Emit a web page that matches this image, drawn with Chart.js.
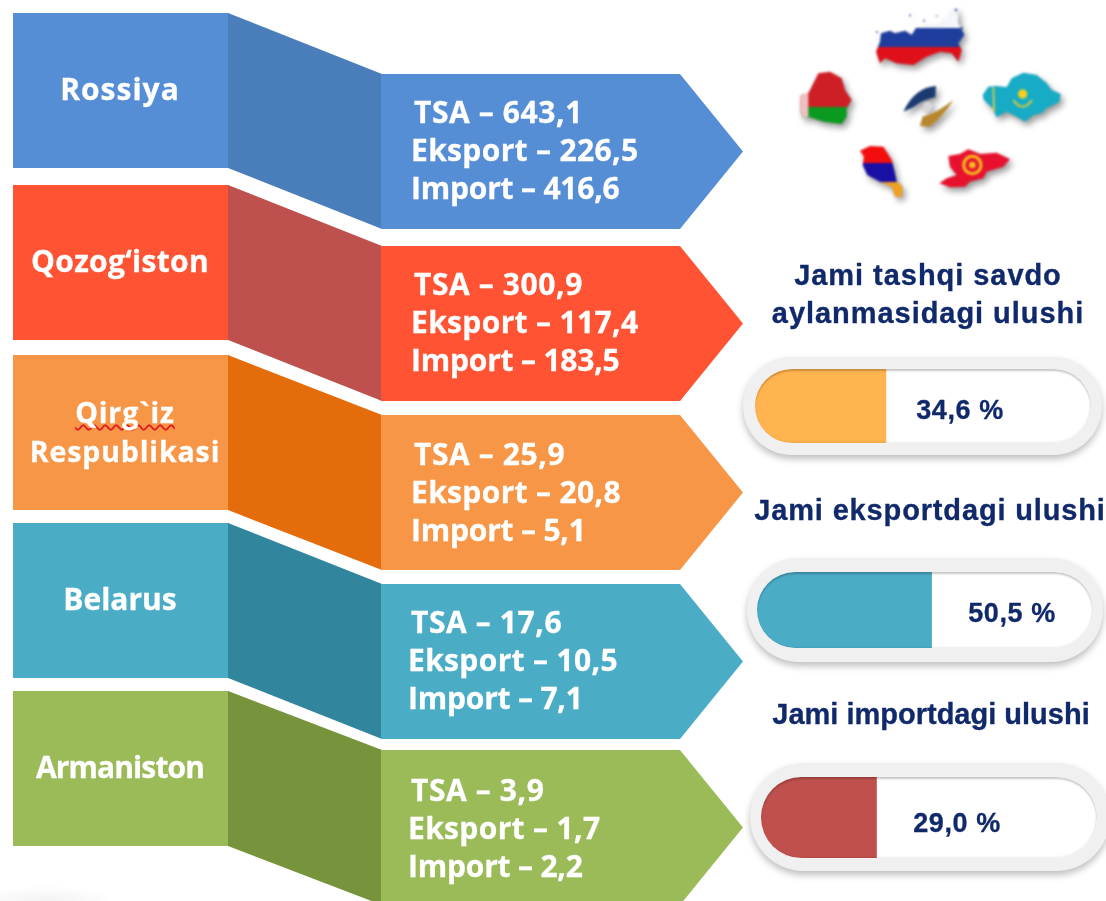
<!DOCTYPE html>
<html>
<head>
<meta charset="utf-8">
<script src="https://cdn.jsdelivr.net/npm/chart.js@4"></script>
<style>
  html, body { margin: 0; padding: 0; background: #fff; }
  #page { position: relative; width: 1106px; height: 901px; overflow: hidden; }
  #page svg { position: absolute; }
  .t { position: absolute; white-space: nowrap; line-height: 1; transform: translateY(-50%); filter: blur(0.45px); }
  .name { color: #fff; font: 700 30px/36px "Open Sans", sans-serif; text-align: center; transform: translate(-50%, -50%); margin-top: -1px; -webkit-text-stroke: .3px #fff; }
  .name.two { font-size: 28.5px; line-height: 39px; }
  .name span { display: block; }
  .trade { color: #fff; font: 700 30px/1 "Open Sans", sans-serif; margin-top: -1px; -webkit-text-stroke: .3px #fff; }
  .head { color: #10296b; font: 700 29px/1 "Liberation Sans", sans-serif; transform: translate(-50%, -50%); -webkit-text-stroke: .3px #10296b; }
  .pct { color: #10296b; font: 700 27px/1 "Liberation Sans", sans-serif; letter-spacing: .6px; transform: translate(-50%, -50%); -webkit-text-stroke: .3px #10296b; }
  .pill { position: absolute; background: #f0f0f0; box-shadow: 0 4px 7px rgba(0,0,0,.25); }
  .slot { position: absolute; background: #fff; overflow: hidden; }
  .slot canvas { display: block; }
  .inset { position: absolute; left: 0; top: 0; right: 0; bottom: 0; border-radius: inherit; box-shadow: inset 0 2px 2px rgba(0,0,0,.22), inset -1px -1px 2px rgba(0,0,0,.08); }
  #flags { filter: blur(1px) drop-shadow(3px 4px 3px rgba(0,0,0,.4)); }
  #smudge { position: absolute; left: -30px; top: 885px; width: 150px; height: 40px; background: radial-gradient(closest-side, rgba(0,0,0,.06), rgba(0,0,0,0)); }
</style>
</head>
<body>
<div id="page">
  <div id="smudge"></div>
  <svg id="ribbons" width="1106" height="901" style="left:0;top:0"></svg>
  <svg id="flags" width="300" height="210" viewBox="0 0 900 630" style="left:780px;top:0">
    <defs>
      <linearGradient id="ru" gradientUnits="userSpaceOnUse" x1="0" y1="0" x2="0" y2="210">
        <stop offset=".405" stop-color="#f4f6fb"/><stop offset=".405" stop-color="#1f3d9c"/>
        <stop offset=".665" stop-color="#1f3d9c"/><stop offset=".665" stop-color="#e0101a"/>
      </linearGradient>
      <linearGradient id="by" gradientUnits="userSpaceOnUse" x1="0" y1="210" x2="0" y2="380">
        <stop offset=".65" stop-color="#cf1f26"/><stop offset=".65" stop-color="#0a9a1f"/>
      </linearGradient>
      <linearGradient id="am" gradientUnits="userSpaceOnUse" x1="0" y1="440" x2="0" y2="595">
        <stop offset=".32" stop-color="#f40d0d"/><stop offset=".32" stop-color="#1a0fa5"/>
        <stop offset=".68" stop-color="#1a0fa5"/><stop offset=".68" stop-color="#f0a020"/>
      </linearGradient>
    </defs>
    <polygon fill="url(#ru)" points="288,155 300,125 303,100 330,92 345,100 375,92 395,105 410,80 440,82 480,75 500,50 525,20 535,45 535,70 553,105 535,130 545,150 535,185 515,160 480,155 440,170 400,195 350,190 315,175 300,190"/>
    <g fill="#3a5aa8">
      <circle cx="291" cy="96" r="3"/><circle cx="390" cy="46" r="3"/><circle cx="432" cy="62" r="3"/>
      <circle cx="470" cy="48" r="2.5"/><circle cx="528" cy="30" r="4"/><circle cx="545" cy="85" r="4"/>
    </g>
    <polygon fill="url(#by)" points="85,280 115,220 150,215 185,235 195,270 215,300 200,325 200,350 185,372 130,365 85,350 70,355 60,330 62,285"/>
    <polygon fill="#efc0c0" points="62,285 85,280 85,350 70,355 60,330"/>
    <polygon fill="#17abc5" points="608,285 625,260 650,258 680,262 695,235 730,218 770,225 800,250 815,270 842,282 838,305 800,325 785,340 760,345 735,365 710,350 680,335 650,352 638,325 612,300"/>
    <circle cx="728" cy="282" r="14" fill="#f5d020"/>
    <path d="M700,300 Q728,340 756,300" fill="none" stroke="#f5d020" stroke-width="5"/>
    <path d="M640,262 L642,335" fill="none" stroke="#e8d040" stroke-width="5"/>
    <polygon fill="#e8112d" points="505,468 540,462 565,448 600,462 650,458 690,478 670,500 620,515 610,535 570,545 555,560 510,562 478,550 500,535 530,525 510,500"/>
    <circle cx="577" cy="495" r="26" fill="none" stroke="#f5c020" stroke-width="9"/>
    <circle cx="577" cy="495" r="10" fill="#f5c020"/>
    <polygon fill="url(#am)" points="240,452 270,438 310,440 335,480 345,520 350,545 368,560 365,590 345,590 335,560 300,545 262,525 248,495 252,470"/>
    <path d="M370,335 Q405,262 468,258 L466,292 Q430,298 400,322 Z" fill="#1c3a70"/>
    <path d="M420,378 L428,350 Q470,340 520,300 Q490,350 448,380 Z" fill="#b8862d"/>
    <circle cx="443" cy="320" r="14" fill="#d8d8dc"/>
  </svg>
</div>
<script>
// values
const countries = ['Rossiya', 'Qozog\u2018iston', 'Qirg`iz\nRespublikasi', 'Belarus', 'Armaniston'];
const tsa = [643.1, 300.9, 25.9, 17.6, 3.9];
const eksport = [226.5, 117.4, 20.8, 10.5, 1.7];
const imports = [416.6, 183.5, 5.1, 7.1, 2.2];

const shareHeads = [['Jami tashqi savdo', 'aylanmasidagi ulushi'], ['Jami eksportdagi ulushi'], ['Jami importdagi ulushi']];
const shares = [34.6, 50.5, 29.0];

// colours
const lightColors = ['#558ed5', '#ff5333', '#f79646', '#4bacc6', '#9bbb59'];
const darkColors = ['#4a7ebb', '#be504d', '#e46c0a', '#31859c', '#77933c'];
const shareColors = ['#ffb44f', '#4bacc6', '#c0504d'];

// layout of the ribbons
const boxTop = [13, 185, 355, 523, 691];
const arrowTop = [74, 246, 415, 584, 750];
const boxH = 155;
const nameY = [90, 262, 433, 600, 768];
const nameX = [120, 120, 125, 120, 120];
const nameSpacing = [1, .3, .9, 0, -.9];
const tradeX = [[414, 411, 411], [414, 411, 411], [414, 411, 411], [411, 408, 408], [411, 408, 408]];
const tradeY = [[113, 151, 189], [285, 323, 361], [455, 493, 531], [623, 661, 699], [791, 829, 867]];
const tradeSpacing = [.6, .35, -.2];

// layout of the pills: outer x, y, w, h then inner x, y, w, h
const pillOuter = [[743, 357, 359, 98], [747, 558, 356, 104], [750, 763, 360, 108]];
const pillInner = [[755, 369, 336, 74], [757, 572, 336, 76], [761, 777, 336, 81]];
const pctPos = [[960, 410], [1012, 613], [957, 823]];
const headPos = [[[928, 275], [928, 313]], [[930, 510]], [[931, 714]]];
const headSpacing = [.95, .85, 0];
// the filled part in the picture is not quite proportional, so the axis starts below zero
const axisMin = -13, axisMax = 109.2;

const page = document.getElementById('page');
const ribbons = document.getElementById('ribbons');

function fmt(v) {
  return v.toFixed(1).replace('.', ',');
}

function addText(cls, text, x, y, spacing) {
  const d = document.createElement('div');
  d.className = 't ' + cls;
  d.textContent = text;
  d.style.left = x + 'px';
  d.style.top = y + 'px';
  if (spacing !== undefined) d.style.letterSpacing = spacing + 'px';
  page.appendChild(d);
  return d;
}

function addPoly(points, fill) {
  const p = document.createElementNS('http://www.w3.org/2000/svg', 'polygon');
  p.setAttribute('points', points.map(a => a.join(',')).join(' '));
  p.setAttribute('fill', fill);
  ribbons.appendChild(p);
}

countries.forEach((name, i) => {
  const b = boxTop[i], a = arrowTop[i];
  addPoly([[13, b], [229, b], [229, b + boxH], [13, b + boxH]], lightColors[i]);
  addPoly([[228, b], [382, a], [382, a + boxH], [228, b + boxH]], darkColors[i]);
  addPoly([[381, a], [680, a], [743, a + boxH / 2], [680, a + boxH], [381, a + boxH]], lightColors[i]);

  const lines = name.split('\n');
  const label = addText(lines.length > 1 ? 'name two' : 'name', '', nameX[i], nameY[i], nameSpacing[i]);
  lines.forEach(line => {
    const s = document.createElement('span');
    s.textContent = line;
    if (line.indexOf('`') >= 0) {
      s.style.textDecoration = 'underline wavy #e02020 1.5px';
      s.style.textUnderlineOffset = '1px';
      s.style.textDecorationSkipInk = 'none';
    }
    label.appendChild(s);
  });

  addText('trade', 'TSA \u2013 ' + fmt(tsa[i]), tradeX[i][0], tradeY[i][0], tradeSpacing[0]);
  addText('trade', 'Eksport \u2013 ' + fmt(eksport[i]), tradeX[i][1], tradeY[i][1], tradeSpacing[1]);
  addText('trade', 'Import \u2013 ' + fmt(imports[i]), tradeX[i][2], tradeY[i][2], tradeSpacing[2]);
});

shares.forEach((value, i) => {
  shareHeads[i].forEach((line, k) => addText('head', line, headPos[i][k][0], headPos[i][k][1], headSpacing[i]));

  const o = pillOuter[i], n = pillInner[i];
  const pill = document.createElement('div');
  pill.className = 'pill';
  pill.style.cssText = `left:${o[0]}px;top:${o[1]}px;width:${o[2]}px;height:${o[3]}px;border-radius:${o[3] / 2}px`;
  page.appendChild(pill);

  const slot = document.createElement('div');
  slot.className = 'slot';
  slot.style.cssText = `left:${n[0]}px;top:${n[1]}px;width:${n[2]}px;height:${n[3]}px;border-radius:${n[3] / 2}px`;
  const canvas = document.createElement('canvas');
  canvas.width = n[2];
  canvas.height = n[3];
  slot.appendChild(canvas);
  const inset = document.createElement('div');
  inset.className = 'inset';
  slot.appendChild(inset);
  page.appendChild(slot);

  new Chart(canvas.getContext('2d'), {
    type: 'bar',
    data: {
      labels: [shareHeads[i].join(' ')],
      datasets: [{
        data: [value],
        base: axisMin,
        backgroundColor: shareColors[i],
        barPercentage: 1,
        categoryPercentage: 1
      }]
    },
    options: {
      indexAxis: 'y',
      responsive: false,
      animation: false,
      layout: { padding: 0 },
      plugins: { legend: { display: false }, tooltip: { enabled: false } },
      scales: {
        x: { display: false, min: axisMin, max: axisMax },
        y: { display: false }
      }
    }
  });

  addText('pct', fmt(value) + ' %', pctPos[i][0], pctPos[i][1]);
});
</script>
</body>
</html>
